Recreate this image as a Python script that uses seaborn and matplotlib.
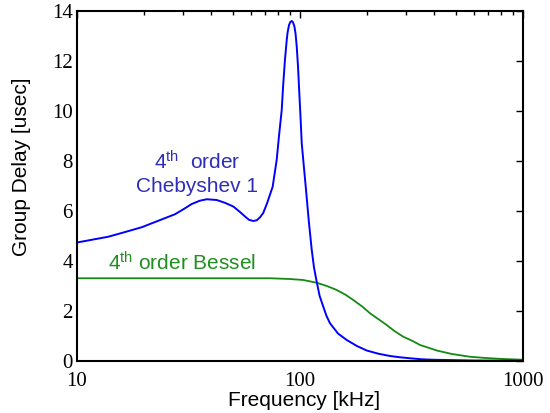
import numpy as np
import pandas as pd
import matplotlib
matplotlib.use("Agg")
import matplotlib.pyplot as plt
import seaborn as sns
from matplotlib.ticker import FixedLocator, LogLocator, NullFormatter

# Group delay of two 4th-order low-pass filters (frequency in kHz, delay in usec)
cheb_freq = [10, 13.8, 16, 19.5, 23, 27.5, 30, 32.7, 35.5, 38.2, 42.3, 46, 50.2,
             53.5, 56.7, 59, 61.7, 64, 66.2, 68.4, 71.1, 73, 75.4, 78.6, 80.5,
             82.8, 84, 85.6, 87.2, 88, 89.3, 90.5, 91.8, 93, 94.3, 95.5, 96.7, 98,
             99.3, 100.6, 101.8, 104, 106.1, 109.5, 112.9, 115.5, 118.8, 122.5,
             127.2, 131.5, 136.3, 148, 162, 180, 199.1, 225, 253.3, 280, 311.4,
             350, 394.9, 600, 1000]
cheb_delay = [4.74, 4.97, 5.13, 5.35, 5.6, 5.87, 6.07, 6.28, 6.41, 6.47, 6.44, 6.33,
              6.18, 5.98, 5.78, 5.65, 5.6, 5.63, 5.75, 5.92, 6.3, 6.6, 6.97, 8.04,
              9.0, 10.04, 11.0, 12.04, 12.84, 13.15, 13.44, 13.56, 13.6, 13.55,
              13.4, 13.1, 12.57, 11.75, 10.71, 9.7, 8.71, 7.8, 6.97, 5.6, 4.44,
              3.75, 3.17, 2.6, 2.17, 1.8, 1.51, 1.1, 0.84, 0.6, 0.42, 0.29, 0.2,
              0.15, 0.11, 0.07, 0.05, 0.02, 0.01]

bessel_freq = [10, 35.6, 73.4, 90, 103.5, 118.8, 132, 146.1, 160, 173.4, 190,
               206, 225, 244.8, 265, 290.6, 320, 345.2, 380, 410.2, 480, 578.6,
               680, 816, 1000]
bessel_delay = [3.31, 3.31, 3.31, 3.28, 3.24, 3.13, 3.0, 2.84, 2.65, 2.44, 2.18,
                1.91, 1.67, 1.44, 1.2, 0.97, 0.8, 0.64, 0.52, 0.42, 0.28, 0.17,
                0.12, 0.08, 0.05]

y_ticks = [0, 2, 4, 6, 8, 10, 12, 14]
x_ticks = [10, 100, 1000]
x_tick_labels = ["10", "100", "1000"]

sns.set_style("white")
plt.rcParams["font.family"] = ["Liberation Sans", "DejaVu Sans"]
plt.rcParams["mathtext.fontset"] = "custom"
plt.rcParams["mathtext.rm"] = "Liberation Sans"
plt.rcParams["mathtext.it"] = "Liberation Sans:italic"

cheb = pd.DataFrame({"freq": cheb_freq, "delay": cheb_delay})
bessel = pd.DataFrame({"freq": bessel_freq, "delay": bessel_delay})

fig = plt.figure(figsize=(5.5, 4.13), dpi=100)
ax = fig.add_axes([77 / 550, 1 - 361 / 413, 446 / 550, 350 / 413])

sns.lineplot(data=bessel, x="freq", y="delay", ax=ax, color="#138a13",
             linewidth=1.3, errorbar=None, sort=True)
sns.lineplot(data=cheb, x="freq", y="delay", ax=ax, color="#0000ff",
             linewidth=1.4, errorbar=None, sort=True)

ax.set_xscale("log")
ax.set_xlim(10, 1000)
ax.set_ylim(0, 14)

ax.xaxis.set_major_locator(FixedLocator(x_ticks))
ax.set_xticklabels(x_tick_labels)
ax.xaxis.set_minor_locator(LogLocator(base=10, subs=np.arange(2, 10)))
ax.xaxis.set_minor_formatter(NullFormatter())
ax.set_yticks(y_ticks)
ax.set_yticklabels([str(v) for v in y_ticks])

for lab in ax.get_xticklabels() + ax.get_yticklabels():
    lab.set_fontfamily("Liberation Serif")
    lab.set_fontsize(15)
    lab.set_color("black")

ax.tick_params(axis="both", which="both", direction="in", top=True, right=True,
               color="black", width=1.0)
ax.tick_params(axis="both", which="major", length=5)
ax.tick_params(axis="both", which="minor", length=3)
ax.tick_params(axis="x", which="major", pad=8)
ax.tick_params(axis="y", which="major", pad=3)

for side in ax.spines.values():
    side.set_visible(True)
    side.set_color("black")
    side.set_linewidth(1.5)

ax.set_xlabel("")
ax.set_ylabel("")
fig.text(304 / 550, 1 - 401 / 413, "Frequency [kHz]", ha="center", va="center",
         fontsize=15, color="black")
fig.text(22 / 550, 1 - 167 / 413, "Group Delay [usec]", ha="center", va="center",
         rotation=90, fontsize=15, color="black")

# curve annotations
ax.text(34.7, 7.64, r"4$^{\mathrm{th}}$  order", ha="center", va="baseline",
        fontsize=15, color="#2e2eb8")
ax.text(34.7, 6.77, "Chebyshev 1", ha="center", va="baseline",
        fontsize=15, color="#2e2eb8")
ax.text(13.8, 3.62, r"4$^{\mathrm{th}}$ order Bessel", ha="left", va="baseline",
        fontsize=15, color="#1f8f1f")

fig.savefig("out.png", dpi=100)
